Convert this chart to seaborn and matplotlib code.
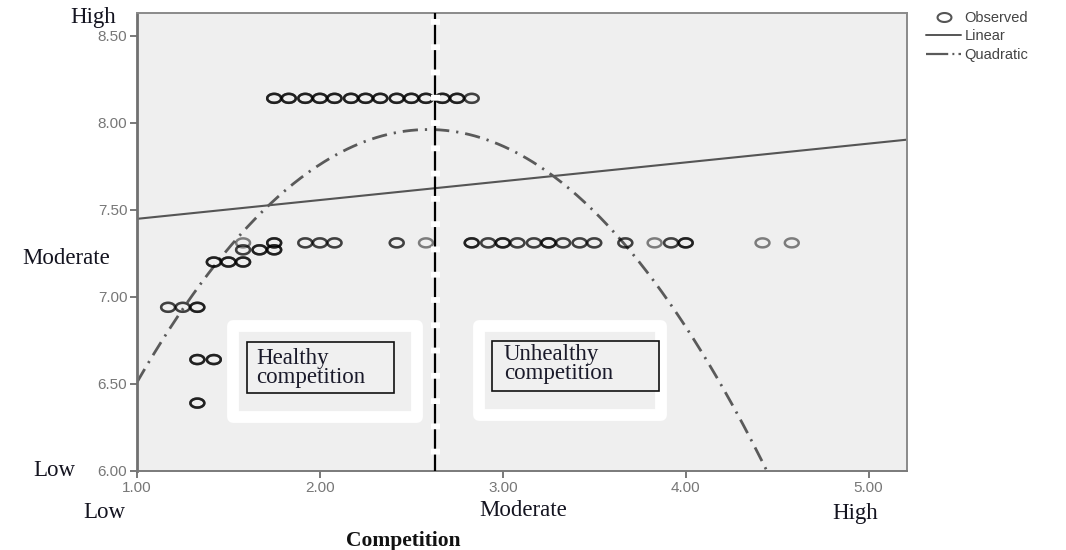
import numpy as np
import pandas as pd
import matplotlib
matplotlib.use("Agg")
import matplotlib.pyplot as plt
from matplotlib.path import Path
from matplotlib.lines import Line2D
from matplotlib.patches import Rectangle
import seaborn as sns

# ---- observed scores: competition (x), outcome (y), respondents at each point ----
competition = [1.75, 1.83, 1.92, 2.00, 2.08, 2.17, 2.25, 2.33, 2.42, 2.50, 2.58, 2.67, 2.75, 2.83,
               1.58, 1.75, 1.92, 2.00, 2.08, 2.42, 2.58,
               2.83, 2.92, 3.00, 3.08, 3.17, 3.25, 3.33, 3.42, 3.50,
               3.67, 3.83, 3.92, 4.00, 4.42, 4.58,
               1.58, 1.67, 1.75,
               1.42, 1.50, 1.58,
               1.17, 1.25, 1.33,
               1.33, 1.42,
               1.33]
outcome = [8.14] * 14 + \
          [7.31] * 7 + \
          [7.31] * 9 + \
          [7.31] * 6 + \
          [7.27] * 3 + \
          [7.20] * 3 + \
          [6.94] * 3 + \
          [6.64] * 2 + \
          [6.39]
frequency = [3, 3, 3, 3, 3, 3, 3, 3, 3, 3, 3, 3, 3, 2,
             1, 3, 2, 2, 2, 2, 1,
             3, 2, 3, 2, 2, 3, 2, 2, 2,
             2, 1, 2, 3, 1, 1,
             2, 3, 3,
             3, 3, 3,
             2, 2, 3,
             3, 3,
             3]

# ---- fitted curves (coefficients, highest power first) ----
linear_coef = [0.108, 7.340]
quadratic_coef = [-0.572, 2.966, 4.116]
turning_point = 2.63

x_ticks = [1.00, 2.00, 3.00, 4.00, 5.00]
y_ticks = [6.00, 6.50, 7.00, 7.50, 8.00, 8.50]
x_levels = ["Low", "Moderate", "High"]
y_levels = ["High", "Moderate", "Low"]
legend_labels = ["Observed", "Linear", "Quadratic"]
zone_labels = ["Healthy\ncompetition", "Unhealthy\ncompetition"]

# ---------------------------------------------------------------------------
sns.set_theme(style="white")
plt.rcParams["font.family"] = ["Liberation Sans", "DejaVu Sans"]
plt.rcParams["lines.scale_dashes"] = False

W, H = 1066, 550
fig = plt.figure(figsize=(W / 100, H / 100), dpi=100)
fig.patch.set_facecolor("white")


def fx(px):
    return px / W


def fy(py):
    return 1 - py / H


ax = fig.add_axes([fx(137), fy(471), (907 - 137) / W, (471 - 13) / H])
ax.set_facecolor("#efefef")

# slightly flattened ring marker
t = np.linspace(0, 2 * np.pi, 60)
ring = Path(np.column_stack([1.55 * np.cos(t), np.sin(t)]), closed=True)

obs = pd.DataFrame({"competition": competition, "outcome": outcome, "n": frequency})
obs = obs.loc[obs.index.repeat(obs["n"])].reset_index(drop=True)

sns.scatterplot(data=obs, x="competition", y="outcome", ax=ax, marker=ring,
                s=100, facecolors="none", edgecolor="black", linewidth=1.8,
                alpha=0.48, zorder=3, legend=False)

grid = np.linspace(1.0, 5.21, 400)
sns.lineplot(x=grid, y=np.polyval(linear_coef, grid), ax=ax, color="#555555",
             lw=1.5, zorder=2, estimator=None, sort=False)
sns.lineplot(x=grid, y=np.polyval(quadratic_coef, grid), ax=ax, color="#5a5a5a",
             lw=2.0, zorder=2, estimator=None, sort=False,
             linestyle=(0, (11, 5, 1.6, 5)))

# split between healthy and unhealthy competition
ax.axvline(turning_point, color="black", lw=1.6, zorder=4)
ax.axvline(turning_point, color="white", lw=6.5, zorder=5,
           linestyle=(6, (4.2, 14.0)), dash_capstyle="butt")

# white outlines around the zone labels
for (x0, y0, x1, y1) in [(233, 326, 417, 417), (479, 326, 661, 415)]:
    ax.add_patch(Rectangle((fx(x0), fy(y1)), fx(x1) - fx(x0), fy(y0) - fy(y1),
                           transform=fig.transFigure, fill=False,
                           edgecolor="white", lw=8.5, joinstyle="round", zorder=1))

# zone label boxes
for (x0, y0, x1, y1), (tx, ty), label in zip(
        [(247, 342, 394, 393), (492, 341, 659, 391)],
        [(256, 368), (504, 364)], zone_labels):
    ax.add_patch(Rectangle((fx(x0), fy(y1)), fx(x1) - fx(x0), fy(y0) - fy(y1),
                           transform=fig.transFigure, facecolor="#f0f0f0",
                           edgecolor="#111111", lw=1.2, zorder=6))
    fig.text(fx(tx), fy(ty), label, ha="left", va="center", fontsize=16.5,
             family="Liberation Serif", color="#1a1a2a", linespacing=0.9, zorder=7)

ax.set_xlim(1.0, 5.21)
ax.set_ylim(6.0, 8.63)
ax.set_xticks(x_ticks)
ax.set_yticks(y_ticks)
ax.set_xticklabels([f"{v:.2f}" for v in x_ticks])
ax.set_yticklabels([f"{v:.2f}" for v in y_ticks])
ax.set_xlabel("")
ax.set_ylabel("")
ax.tick_params(axis="both", bottom=True, left=True, direction="out", length=5,
               width=1.3, color="#6e6e6e", labelcolor="#777777", labelsize=11, pad=2)

for side, sp in ax.spines.items():
    sp.set_visible(True)
    sp.set_color("#8a8a8a")
    sp.set_linewidth(1.4)
ax.spines["left"].set_color("#707070")
ax.spines["left"].set_linewidth(2.0)
ax.spines["bottom"].set_color("#7a7a7a")

# qualitative level labels
serif = dict(family="Liberation Serif", color="#141420", fontsize=16.5)
for label, (px, py) in zip(y_levels, [(93, 18), (66, 258), (54, 470)]):
    fig.text(fx(px), fy(py), label, ha="center", va="center", **serif)
for label, (px, py) in zip(x_levels, [(104, 512), (523, 511), (855, 514)]):
    fig.text(fx(px), fy(py), label, ha="center", va="center", **serif)
fig.text(fx(403), fy(541), "Competition", ha="center", va="center",
         family="Liberation Serif", fontweight="bold", fontsize=15.5, color="#111111")

# legend
handles = [
    Line2D([], [], linestyle="none", marker=ring, markersize=10,
           markerfacecolor="none", markeredgecolor="#555555", markeredgewidth=1.5),
    Line2D([], [], color="#555555", lw=1.4),
    Line2D([], [], color="#5a5a5a", lw=1.6, linestyle=(0, (16, 3, 1.4, 3))),
]
leg = ax.legend(handles, legend_labels, loc="upper left",
                bbox_to_anchor=(fx(926), fy(11)), bbox_transform=fig.transFigure,
                frameon=False, fontsize=10.5, handlelength=2.4, handletextpad=0.25,
                labelspacing=0.3, borderpad=0, borderaxespad=0)
for txt in leg.get_texts():
    txt.set_color("#444444")

fig.savefig("out.png", dpi=100, facecolor="white")
